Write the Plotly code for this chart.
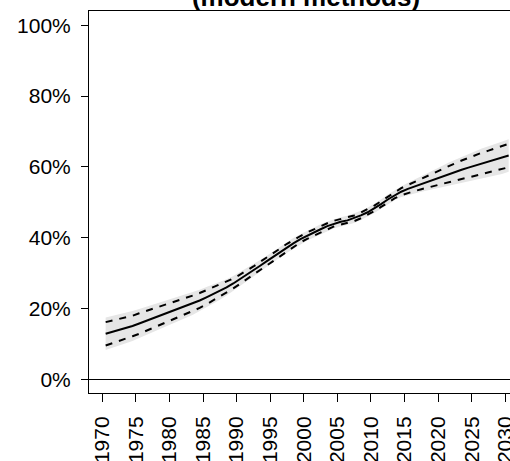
import plotly.graph_objects as go

years = [1970.5 + i for i in range(61)]

median = [12.9, 13.4, 13.9, 14.5, 15.1, 15.8, 16.5, 17.2, 17.9, 18.6,
          19.3, 20.0, 20.7, 21.5, 22.3, 23.2, 24.1, 25.0, 26.0, 27.1,
          28.3, 29.5, 30.8, 32.1, 33.4, 34.7, 36.0, 37.3, 38.5, 39.6,
          40.6, 41.5, 42.4, 43.3, 44.0, 44.5, 44.9, 45.5, 46.3, 47.2,
          48.3, 49.5, 50.8, 52.0, 53.0, 53.8, 54.5, 55.2, 55.9, 56.6,
          57.3, 58.0, 58.6, 59.2, 59.8, 60.4, 61.0, 61.5, 62.0, 62.6,
          63.2]

lower80 = [9.6, 10.2, 10.8, 11.5, 12.2, 12.9, 13.7, 14.5, 15.3, 16.0,
           16.8, 17.6, 18.4, 19.3, 20.2, 21.2, 22.3, 23.3, 24.5, 25.7,
           27.0, 28.3, 29.7, 31.0, 32.4, 33.7, 35.0, 36.3, 37.5, 38.7,
           39.7, 40.6, 41.5, 42.5, 43.2, 43.7, 44.1, 44.7, 45.5, 46.4,
           47.5, 48.7, 50.0, 51.1, 52.0, 52.7, 53.2, 53.7, 54.2, 54.8,
           55.3, 55.8, 56.2, 56.6, 57.0, 57.5, 58.0, 58.4, 58.8, 59.3,
           59.9]

upper80 = [16.2, 16.6, 17.0, 17.5, 18.0, 18.7, 19.3, 19.9, 20.5, 21.2,
           21.8, 22.4, 23.0, 23.7, 24.4, 25.2, 25.9, 26.7, 27.5, 28.5,
           29.6, 30.7, 31.9, 33.2, 34.4, 35.7, 37.0, 38.3, 39.5, 40.5,
           41.5, 42.4, 43.3, 44.1, 44.8, 45.3, 45.7, 46.3, 47.1, 48.0,
           49.1, 50.3, 51.6, 52.9, 54.0, 54.9, 55.8, 56.7, 57.6, 58.4,
           59.3, 60.2, 61.0, 61.8, 62.6, 63.3, 64.0, 64.6, 65.2, 65.9,
           66.5]

lower95 = [8.3, 8.9, 9.5, 10.3, 10.9, 11.7, 12.5, 13.4, 14.1, 15.0,
           15.7, 16.6, 17.4, 18.3, 19.3, 20.3, 21.4, 22.5, 23.7, 25.0,
           26.3, 27.7, 29.1, 30.5, 31.9, 33.2, 34.5, 35.8, 37.0, 38.2,
           39.2, 40.1, 41.0, 42.0, 42.7, 43.2, 43.6, 44.2, 45.0, 45.9,
           47.0, 48.2, 49.4, 50.6, 51.5, 52.1, 52.5, 53.0, 53.4, 53.9,
           54.4, 54.8, 55.2, 55.5, 55.9, 56.3, 56.8, 57.2, 57.5, 58.0,
           58.6]

upper95 = [17.5, 17.9, 18.3, 18.8, 19.3, 19.9, 20.5, 21.0, 21.7, 22.2,
           22.9, 23.4, 24.0, 24.7, 25.3, 26.1, 26.8, 27.5, 28.3, 29.2,
           30.3, 31.3, 32.5, 33.7, 34.9, 36.2, 37.5, 38.8, 40.0, 41.0,
           42.0, 42.9, 43.8, 44.6, 45.3, 45.8, 46.2, 46.8, 47.6, 48.5,
           49.6, 50.8, 52.2, 53.4, 54.5, 55.5, 56.4, 57.4, 58.4, 59.3,
           60.2, 61.2, 62.0, 62.9, 63.7, 64.5, 65.2, 65.8, 66.5, 67.2,
           67.8]

tick_years = list(range(1970, 2035, 5))
tick_labels = [str(y) for y in tick_years]
y_ticks = [0, 20, 40, 60, 80, 100]
y_labels = ["0%", "20%", "40%", "60%", "80%", "100%"]
title_text = "(modern methods)"

FONT = "Liberation Sans, Arial, Helvetica, sans-serif"

fig = go.Figure()

fig.add_trace(go.Scatter(x=years, y=upper95, mode="lines",
                         line=dict(width=0, color="rgba(0,0,0,0)"),
                         showlegend=False, hoverinfo="skip"))
fig.add_trace(go.Scatter(x=years, y=lower95, mode="lines",
                         line=dict(width=0, color="rgba(0,0,0,0)"),
                         fill="tonexty", fillcolor="#E6E6E6",
                         showlegend=False, hoverinfo="skip"))
fig.add_trace(go.Scatter(x=years, y=upper80, mode="lines",
                         line=dict(color="black", width=2, dash="7px,7px"),
                         showlegend=False))
fig.add_trace(go.Scatter(x=years, y=lower80, mode="lines",
                         line=dict(color="black", width=2, dash="7px,7px"),
                         showlegend=False))
fig.add_trace(go.Scatter(x=years, y=median, mode="lines",
                         line=dict(color="black", width=2),
                         showlegend=False))

fig.add_hline(y=0, line=dict(color="black", width=1))

fig.update_layout(
    width=510, height=461,
    margin=dict(l=89, r=0, t=11, b=68, autoexpand=False),
    paper_bgcolor="white", plot_bgcolor="white",
    font=dict(family=FONT, size=21, color="black"),
    title=dict(text="<b>" + title_text + "</b>", font=dict(size=26, family=FONT, color="black"),
               x=306 / 510, xanchor="center", xref="container",
               y=1 - 6 / 461, yanchor="bottom", yref="container", automargin=False),
    xaxis=dict(range=[1968.02, 2030.70], tickvals=tick_years, ticktext=tick_labels,
               tickangle=-90, ticks="outside", ticklen=8, tickwidth=1, tickcolor="black",
               showline=True, linecolor="black", linewidth=1, mirror=True,
               showgrid=False, zeroline=False, ticklabelstandoff=6, automargin=False,
               ticklabeloverflow="allow",
               tickfont=dict(size=21, family=FONT, color="black")),
    yaxis=dict(range=[-3.81, 104], tickvals=y_ticks, ticktext=y_labels,
               ticks="outside", ticklen=7, tickwidth=1, tickcolor="black",
               showline=True, linecolor="black", linewidth=1, mirror=False,
               showgrid=False, zeroline=False, ticklabelstandoff=6, automargin=False,
               tickfont=dict(size=21, family=FONT, color="black")),
)

fig.write_html("out.html", config={"displayModeBar": False},
               post_script="document.body.style.margin='0';document.body.style.overflow='hidden';")
